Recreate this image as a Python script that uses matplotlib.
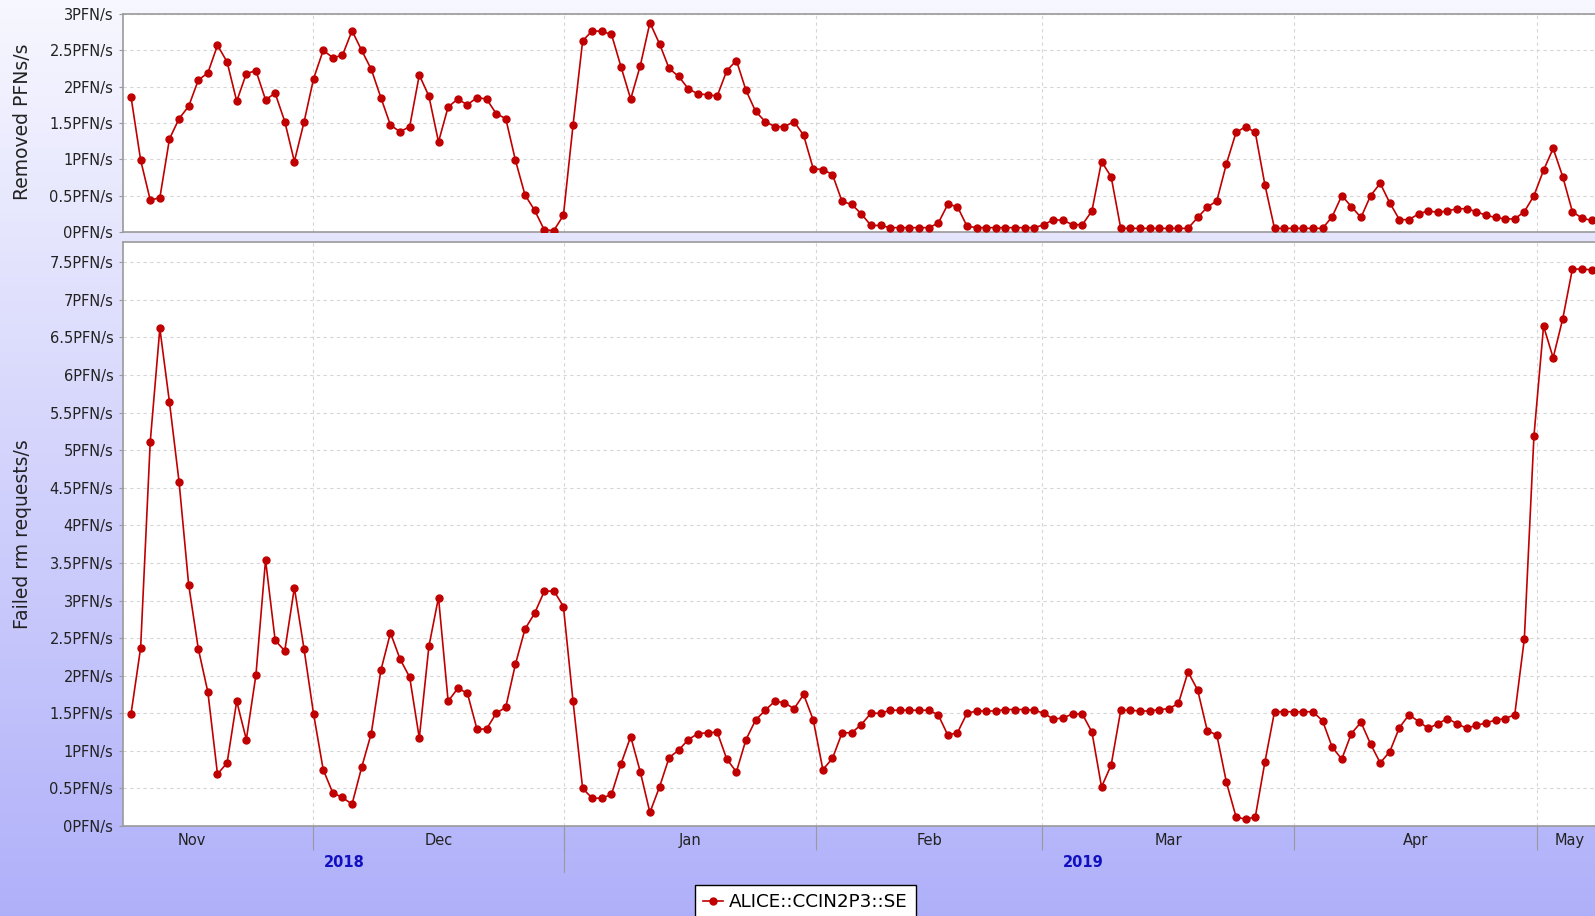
import numpy as np
import pandas as pd
import matplotlib
matplotlib.use("Agg")
import matplotlib.pyplot as plt
import matplotlib.dates as mdates
from matplotlib.lines import Line2D

# removed PFNs/s per sample (top panel)
removed = [1.86, 0.99, 0.44, 0.47, 1.28, 1.56, 1.73, 2.09, 2.19, 2.57,
           2.34, 1.80, 2.18, 2.22, 1.82, 1.91, 1.52, 0.97, 1.51, 2.11,
           2.50, 2.40, 2.43, 2.77, 2.50, 2.24, 1.85, 1.47, 1.38, 1.45,
           2.16, 1.87, 1.24, 1.72, 1.83, 1.75, 1.85, 1.83, 1.63, 1.56,
           0.99, 0.51, 0.30, 0.03, 0.02, 0.23, 1.47, 2.63, 2.77, 2.76,
           2.72, 2.27, 1.83, 2.29, 2.88, 2.59, 2.25, 2.14, 1.97, 1.90,
           1.89, 1.87, 2.22, 2.36, 1.95, 1.66, 1.52, 1.45, 1.45, 1.52,
           1.33, 0.87, 0.86, 0.79, 0.42, 0.38, 0.25, 0.09, 0.09, 0.06,
           0.06, 0.06, 0.06, 0.06, 0.12, 0.38, 0.35, 0.08, 0.06, 0.06,
           0.06, 0.06, 0.06, 0.06, 0.06, 0.10, 0.17, 0.16, 0.10, 0.10,
           0.29, 0.97, 0.76, 0.05, 0.05, 0.05, 0.05, 0.05, 0.05, 0.05,
           0.05, 0.20, 0.34, 0.43, 0.94, 1.37, 1.45, 1.37, 0.65, 0.05,
           0.05, 0.05, 0.05, 0.05, 0.05, 0.21, 0.50, 0.35, 0.20, 0.50,
           0.67, 0.40, 0.17, 0.17, 0.25, 0.29, 0.27, 0.29, 0.32, 0.32,
           0.28, 0.23, 0.20, 0.18, 0.18, 0.28, 0.50, 0.85, 1.15, 0.76,
           0.28, 0.19, 0.16]

# failed rm requests/s per sample (bottom panel)
failed = [1.49, 2.37, 5.11, 6.62, 5.64, 4.58, 3.21, 2.36, 1.78, 0.69,
          0.84, 1.66, 1.15, 2.01, 3.54, 2.47, 2.33, 3.17, 2.36, 1.49,
          0.75, 0.44, 0.38, 0.29, 0.78, 1.23, 2.07, 2.57, 2.22, 1.98,
          1.17, 2.39, 3.04, 1.66, 1.83, 1.77, 1.29, 1.29, 1.50, 1.58,
          2.15, 2.62, 2.83, 3.12, 3.13, 2.92, 1.66, 0.50, 0.37, 0.37,
          0.42, 0.83, 1.19, 0.72, 0.18, 0.52, 0.91, 1.01, 1.15, 1.23,
          1.24, 1.25, 0.89, 0.72, 1.15, 1.41, 1.54, 1.66, 1.64, 1.56,
          1.75, 1.41, 0.75, 0.90, 1.24, 1.24, 1.35, 1.50, 1.50, 1.54,
          1.54, 1.54, 1.54, 1.54, 1.48, 1.21, 1.24, 1.50, 1.53, 1.53,
          1.53, 1.55, 1.55, 1.55, 1.54, 1.50, 1.42, 1.44, 1.49, 1.49,
          1.25, 0.52, 0.81, 1.54, 1.54, 1.53, 1.53, 1.55, 1.56, 1.63,
          2.05, 1.81, 1.27, 1.21, 0.58, 0.12, 0.09, 0.12, 0.85, 1.52,
          1.52, 1.52, 1.52, 1.52, 1.40, 1.05, 0.89, 1.23, 1.38, 1.09,
          0.84, 0.99, 1.31, 1.48, 1.39, 1.30, 1.36, 1.43, 1.36, 1.30,
          1.34, 1.37, 1.41, 1.43, 1.48, 2.49, 5.19, 6.65, 6.23, 6.75,
          7.41, 7.41, 7.40]

series_name = "ALICE::CCIN2P3::SE"
top_ticks = [0, 0.5, 1, 1.5, 2, 2.5, 3]
bottom_ticks = [0, 0.5, 1, 1.5, 2, 2.5, 3, 3.5, 4, 4.5, 5, 5.5, 6, 6.5, 7, 7.5]
month_starts = ["2018-12-01", "2019-01-01", "2019-02-01", "2019-03-01",
                "2019-04-01", "2019-05-01"]
month_labels = ["Nov", "Dec", "Jan", "Feb", "Mar", "Apr", "May"]
month_label_dates = ["2018-11-16", "2018-12-16 12:00", "2019-01-16 12:00",
                     "2019-02-15", "2019-03-16 12:00", "2019-04-16",
                     "2019-05-05 02:00"]
year_labels = ["2018", "2019"]
year_label_dates = ["2018-12-04 20:00", "2019-03-06 02:00"]

# samples are evenly spaced in time
times = pd.date_range("2018-11-08 12:00", periods=len(removed), freq="1708min")
x_left = pd.Timestamp("2018-11-07 12:15")
x_right = pd.Timestamp("2019-05-08 05:00")

W, H = 1595, 916
red = "#c00000"
grey = "#9a9a9a"
txt = "#222222"

def pfn_label(v):
    return ("%g" % v) + "PFN/s"

fig = plt.figure(figsize=(W / 100, H / 100), dpi=100)

# background gradient, white-ish at top to lavender at bottom
bg = fig.add_axes([0, 0, 1, 1], zorder=-10)
t = np.linspace(0, 1, 256).reshape(-1, 1)
top_c = np.array([0.97, 0.97, 1.0])
bot_c = np.array([0.69, 0.69, 0.98])
grad = top_c + (bot_c - top_c) * t[:, :, None]
bg.imshow(grad, aspect="auto", extent=[0, 1, 0, 1])
bg.axis("off")

left = 123 / W
ax1 = fig.add_axes([left, 1 - 232 / H, 1 - left, (232 - 14) / H])
ax2 = fig.add_axes([left, 1 - 826 / H, 1 - left, (826 - 242) / H])

month_x = [pd.Timestamp(d) for d in month_starts]

for ax, vals, ticks, ymax in [(ax1, removed, top_ticks, 3.0),
                              (ax2, failed, bottom_ticks, 7.77)]:
    ax.set_facecolor("white")
    ax.plot(times, vals, color=red, lw=1.2, marker="o", ms=5,
            mfc=red, mec=red, zorder=3)
    ax.set_xlim(x_left, x_right)
    ax.set_ylim(0, ymax)
    ax.set_yticks(ticks)
    ax.set_yticklabels([pfn_label(v) for v in ticks])
    ax.set_xticks(month_x)
    ax.grid(True, color="#d6d6d6", ls=(0, (3, 3)), lw=0.8)
    ax.tick_params(axis="y", length=3, color=grey, labelsize=10.5,
                   labelcolor=txt, pad=4)
    for s in ["left", "bottom", "top"]:
        ax.spines[s].set_color(grey)
        ax.spines[s].set_linewidth(1.2)
    ax.spines["right"].set_visible(False)

ax1.tick_params(axis="x", length=0, labelbottom=False)
ax2.tick_params(axis="x", length=17, color=grey, width=0.8, labelbottom=False)

xt = ax2.get_xaxis_transform()
for lab, d in zip(month_labels, month_label_dates):
    ax2.text(pd.Timestamp(d), -0.024, lab, transform=xt, ha="center",
             va="center", fontsize=10.5, color=txt)
for lab, d in zip(year_labels, year_label_dates):
    ax2.text(pd.Timestamp(d), -0.063, lab, transform=xt, ha="center",
             va="center", fontsize=10.5, color="#1010c0", fontweight="bold")
# longer tick at the year boundary
jan = mdates.date2num(pd.Timestamp("2019-01-01"))
ax2.add_line(Line2D([jan, jan], [0, -(872 - 826) / 584], transform=xt,
                    color=grey, lw=0.8, clip_on=False))

fig.text(23 / W, 1 - 122 / H, "Removed PFNs/s", rotation=90, ha="center",
         va="center", fontsize=13.5, color=txt)
fig.text(23 / W, 1 - 534 / H, "Failed rm requests/s", rotation=90,
         ha="center", va="center", fontsize=13.5, color=txt)

handle = Line2D([], [], color=red, lw=1.2, marker="o", ms=5)
leg = fig.legend([handle], [series_name], loc="upper left",
                 bbox_to_anchor=(695 / W, 1 - 885 / H), borderaxespad=0,
                 fontsize=13.2, fancybox=False, framealpha=1, edgecolor="black",
                 borderpad=0.45, handlelength=1.1, handletextpad=0.3)
leg.get_frame().set_linewidth(1.0)

fig.savefig("out.png", dpi=100)
